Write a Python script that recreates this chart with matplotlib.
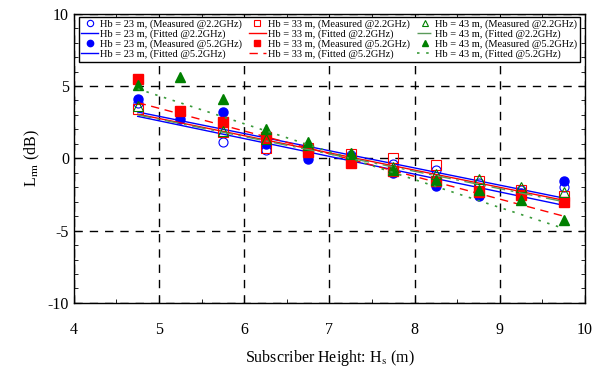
import numpy as np
import matplotlib
matplotlib.use("Agg")
import matplotlib.pyplot as plt
from matplotlib.ticker import MultipleLocator

plt.rcParams['font.family'] = ['Liberation Serif', 'DejaVu Serif']
plt.rcParams['mathtext.fontset'] = 'stix'
plt.rcParams['axes.unicode_minus'] = False

# subscriber heights (m)
hs = [4.75, 5.25, 5.75, 6.25, 6.75, 7.25, 7.75, 8.25, 8.75, 9.25, 9.75]
nan = np.nan

# measured @2.2GHz
hb23_22 = [3.8, nan, 1.1, 0.6, 0.6, 0.2, -0.4, -0.8, -1.7, -2.2, -2.0]
hb33_22 = [3.4, nan, 1.8, 0.7, 0.7, 0.3, 0.0, -0.45, -1.6, -2.2, -2.6]
hb43_22 = [3.6, nan, 1.9, 1.3, 0.9, 0.3, -0.6, -1.1, -1.45, -1.95, -2.3]

# measured @5.2GHz
hb23_52 = [4.1, 2.75, 3.2, 1.0, -0.05, 0.1, -1.05, -1.9, -2.6, -2.4, -1.6]
hb33_52 = [5.5, 3.25, 2.5, 1.5, 0.45, -0.3, -0.85, -1.6, -2.3, -2.55, -3.0]
hb43_52 = [5.1, 5.6, 4.1, 2.0, 1.1, 0.35, -0.8, -1.5, -2.2, -2.85, -4.25]

# fitted lines, values at the two ends
fit_x = [4.75, 9.75]
fit23_22 = [3.2, -2.75]
fit33_22 = [3.05, -2.9]
fit43_22 = [3.0, -3.0]
fit23_52 = [2.9, -3.25]
fit33_52 = [3.85, -4.0]
fit43_52 = [4.8, -4.85]

fig = plt.figure(figsize=(6.05, 3.69), dpi=100)
ax = fig.add_axes([0.122, 0.179, 0.845, 0.784])

ms = 6.5
blue, red, green = '#0000ff', '#ff0000', '#008000'
h = []
h += ax.plot(hs, hb23_22, 'o', mfc='none', mec=blue, ms=ms, mew=0.8, label='Hb = 23 m, (Measured @2.2GHz)')
h += ax.plot(fit_x, fit23_22, '-', color=blue, lw=1, label='Hb = 23 m, (Fitted @2.2GHz)')
h += ax.plot(hs, hb23_52, 'o', color=blue, ms=ms, label='Hb = 23 m, (Measured @5.2GHz)')
h += ax.plot(fit_x, fit23_52, '-', color=blue, lw=1, label='Hb = 23 m, (Fitted @5.2GHz)')
h += ax.plot(hs, hb33_22, 's', mfc='none', mec=red, ms=ms, mew=0.8, label='Hb = 33 m, (Measured @2.2GHz)')
h += ax.plot(fit_x, fit33_22, '-', color=red, lw=1, label='Hb = 33 m, (Fitted @2.2GHz)')
h += ax.plot(hs, hb33_52, 's', color=red, ms=ms, label='Hb = 33 m, (Measured @5.2GHz)')
h += ax.plot(fit_x, fit33_52, '--', color=red, lw=1, dashes=(6, 4), label='Hb = 33 m, (Fitted @5.2GHz)')
h += ax.plot(hs, hb43_22, '^', mfc='none', mec=green, ms=ms, mew=0.8, label='Hb = 43 m, (Measured @2.2GHz)')
h += ax.plot(fit_x, fit43_22, color='#5a9a5a', lw=1, dashes=(10, 4, 2, 4), label='Hb = 43 m, (Fitted @2.2GHz)')
h += ax.plot(hs, hb43_52, '^', color=green, ms=ms, label='Hb = 43 m, (Measured @5.2GHz)')
h += ax.plot(fit_x, fit43_52, color='#3a9a3a', lw=1.2, dashes=(1.5, 4), label='Hb = 43 m, (Fitted @5.2GHz)')

ax.set_xlim(4, 10)
ax.set_ylim(-10, 10)
ax.xaxis.set_major_locator(MultipleLocator(1))
ax.xaxis.set_minor_locator(MultipleLocator(0.5))
ax.yaxis.set_major_locator(MultipleLocator(5))
ax.yaxis.set_minor_locator(MultipleLocator(1))
ax.tick_params(which='both', direction='in', top=True, right=True, labelsize=11.5)
ax.tick_params(which='major', length=5)
ax.tick_params(which='minor', length=3)
ax.tick_params(axis='x', pad=14)
ax.grid(True, which='major', color='black', linestyle=(0, (6, 5)), lw=1)
for s in ax.spines.values():
    s.set_linewidth(1)

ax.set_xlabel('Subscriber Height: H$_{\\mathrm{s}}$ (m)', fontsize=11.5, labelpad=7)
ax.set_ylabel('L$_{\\mathrm{rm}}$ (dB)', fontsize=11.5)

leg = ax.legend(handles=h, loc='upper center', ncol=3, fontsize=7.5, frameon=True,
                fancybox=False, edgecolor='black', borderpad=0.25, labelspacing=0.05,
                handlelength=1.6, handletextpad=0.2, columnspacing=0.65,
                markerscale=0.7, borderaxespad=0.3, bbox_to_anchor=(0.5, 1.0))
leg.get_frame().set_linewidth(1)
leg.get_frame().set_alpha(1)

fig.savefig('out.png', dpi=100)
